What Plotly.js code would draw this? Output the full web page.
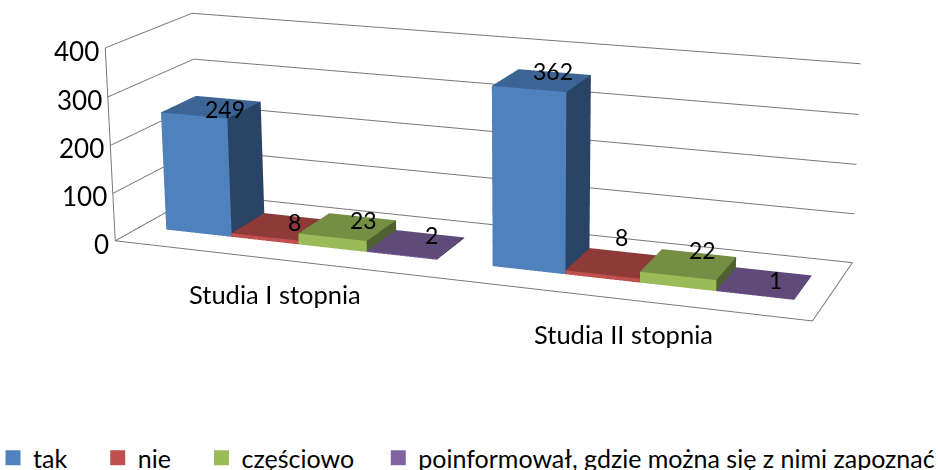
<!DOCTYPE html>
<html>
<head>
<meta charset="utf-8">
<script src="https://cdn.plot.ly/plotly-3.0.1.min.js"></script>
<style>
html,body{margin:0;padding:0;width:938px;height:470px;overflow:hidden;background:#fff}
#chart{position:absolute;left:-28px;top:-750px;width:1100px;height:1812px}
</style>
</head>
<body>
<div id="chart"></div>
<script>
var categories = ["Studia I stopnia", "Studia II stopnia"];
var seriesNames = ["tak", "nie", "częściowo", "poinformował, gdzie można się z nimi zapoznać"];
var tak = [249, 362];
var nie = [8, 8];
var czesciowo = [23, 22];
var poinformowal = [2, 1];
var zTicks = [0, 100, 200, 300, 400];
var frontColors = ["#4F81BD", "#C0504D", "#9BBB59", "#8064A2"];
var topColors = ["#3C6595", "#8E3A38", "#748E43", "#5F4A79"];
var sideColors = ["#294464", "#6B2B2A", "#4F6130", "#453558"];
var values = [tak, nie, czesciowo, poinformowal];
// pixel nudges of the data labels, [right, up], per series and category
var labelNudges = [
  [[14, -2], [11, 9]],
  [[14, 5], [7, 26]],
  [[16, 7], [14, 14]],
  [[16, 9], [11, 3]]
];
var legendPads = [4, 4, 3, 0];

var W = 1100, H = 1812, LEFT = 28, TOP = 750;
var font = "Lato, 'Open Sans', sans-serif";
var barW = 0.209, groupStart = 0.084;
var y0 = 0.285, y1 = 0.70;
var traces = [], annotations = [];

values.forEach(function (vals, s) {
  var X = [], Y = [], Z = [], I = [], J = [], K = [], C = [];
  function quad(a, b, c, d, col) {
    I.push(a, a); J.push(b, c); K.push(c, d); C.push(col, col);
  }
  vals.forEach(function (v, g) {
    var xa = g + groupStart + s * barW, xb = xa + barW, n = X.length;
    [[xa,y0,0],[xb,y0,0],[xb,y1,0],[xa,y1,0],[xa,y0,v],[xb,y0,v],[xb,y1,v],[xa,y1,v]].forEach(function (p) {
      X.push(p[0]); Y.push(p[1]); Z.push(p[2]);
    });
    quad(n, n+1, n+5, n+4, frontColors[s]);
    quad(n+1, n+2, n+6, n+5, sideColors[s]);
    quad(n+4, n+5, n+6, n+7, topColors[s]);
    quad(n+3, n+2, n+6, n+7, sideColors[s]);
    quad(n, n+3, n+7, n+4, sideColors[s]);
    annotations.push({x: (xa + xb) / 2, y: (y0 + y1) / 2, z: v, text: String(v), showarrow: false,
      xshift: labelNudges[s][g][0], yshift: labelNudges[s][g][1],
      font: {family: font, size: 23, color: "#000"}});
  });
  traces.push({type: "mesh3d", name: seriesNames[s], x: X, y: Y, z: Z, i: I, j: J, k: K,
    facecolor: C, flatshading: true, showlegend: false, showscale: false, hoverinfo: "skip",
    lighting: {ambient: 1, diffuse: 0, specular: 0, roughness: 1, fresnel: 0}});
  traces.push({type: "scatter3d", mode: "markers", name: seriesNames[s] + "\u00a0".repeat(legendPads[s]),
    x: [null], y: [null], z: [null],
    marker: {symbol: "square", size: 15, color: frontColors[s], line: {width: 0}}, showlegend: true, hoverinfo: "skip"});
});

zTicks.forEach(function (t) {
  annotations.push({x: 0, y: 0, z: t, text: String(t), showarrow: false, xanchor: "right", xshift: -4, yshift: -3,
    font: {family: font, size: 26, color: "#000"}});
});
categories.forEach(function (c, g) {
  annotations.push({x: g + 0.5, y: 0, z: 0, text: c, showarrow: false, yshift: -35,
    font: {family: font, size: 25.5, color: "#000"}});
});

traces.push({type: "scatter3d", mode: "lines", showlegend: false, hoverinfo: "skip",
  x: [0, 0, 2, 2], y: [1, 0, 0, 1], z: [0, 0, 0, 0], line: {color: "#777777", width: 2}});
traces.push({type: "scatter3d", mode: "lines", showlegend: false, hoverinfo: "skip",
  x: [0, 0], y: [0, 0], z: [0, 400], line: {color: "#777777", width: 2}});

var hiddenAxis = {showbackground: false, showgrid: false, zeroline: false, showspikes: false, showticklabels: false,
  ticks: "", showline: false, title: {text: ""}};
var layout = {
  width: W, height: H, margin: {l: 0, r: 0, t: 0, b: 0}, paper_bgcolor: "#fff",
  font: {family: font, size: 24, color: "#000"},
  showlegend: true,
  legend: {orientation: "h", x: (-7 + LEFT) / W, y: 1 - (458 + TOP) / H, xanchor: "left", yanchor: "middle",
    font: {family: font, size: 25}, itemclick: false, itemdoubleclick: false},
  scene: {
    domain: {x: [0, 1], y: [0, 1]},
    dragmode: "orbit",
    aspectmode: "manual",
    aspectratio: {x: 1, y: 0.2518, z: 0.2787},
    camera: {
      projection: {type: "perspective"},
      eye: {x: 1.0358, y: -2.7067, z: 0.7905},
      center: {x: 0.0577, y: 0.0206, z: -0.0017},
      up: {x: -0.0887, y: 0.2486, z: 0.9646}
    },
    xaxis: Object.assign({}, hiddenAxis, {range: [0, 2]}),
    yaxis: Object.assign({}, hiddenAxis, {range: [0, 1]}),
    zaxis: Object.assign({}, hiddenAxis, {range: [0, 400], tickmode: "array", tickvals: zTicks, showgrid: true,
      gridcolor: "#777777", gridwidth: 2}),
    annotations: annotations
  }
};
Plotly.newPlot("chart", traces, layout, {displayModeBar: false});
</script>
</body>
</html>
